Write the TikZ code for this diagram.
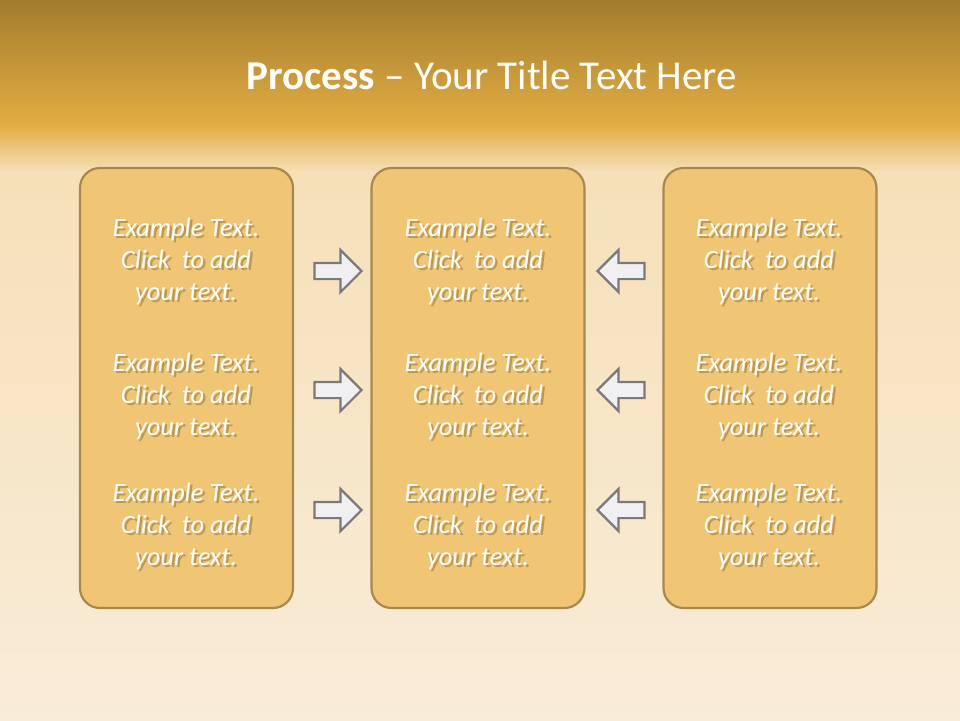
\documentclass[tikz,border=0pt]{standalone}
\usepackage{fontspec}
\setmainfont{Carlito}
\usetikzlibrary{shapes.arrows}
\definecolor{topdark}{HTML}{A47C2F}
\definecolor{topmid}{HTML}{E3AE42}
\definecolor{creamA}{HTML}{F5E0B8}
\definecolor{creamB}{HTML}{F9ECD8}
\definecolor{boxfill}{HTML}{F0C574}
\definecolor{boxline}{HTML}{A88850}
\definecolor{arrfill}{HTML}{F0F0F2}
\definecolor{arrline}{HTML}{7A7A7A}
\definecolor{shadowc}{HTML}{5A4210}
\tikzset{
  panel/.style={draw=boxline, line width=2.2pt, fill=boxfill, rounded corners=20pt,
    minimum width=213pt, minimum height=440pt, inner sep=0pt},
  bodytext/.style={text=white, font=\fontsize{26.5}{32}\selectfont\itshape, align=center, inner sep=0pt},
  bodyshadow/.style={bodytext, text=shadowc, opacity=0.35},
  rarrow/.style={single arrow, draw=arrline, line width=2.2pt, fill=arrfill,
    minimum height=47pt, minimum width=41pt, inner sep=7pt, single arrow head extend=13pt},
  larrow/.style={rarrow, shape border rotate=180},
}
\newcommand{\exampletext}{Example Text.\\Click~ to add\\your text.}
\begin{document}
\begin{tikzpicture}[x=1pt,y=-1pt]
\useasboundingbox (0,0) rectangle (960,720);
% background
\shade[top color=topdark, bottom color=topmid] (0,0) rectangle (960,126);
\shade[top color=topmid, bottom color=creamA] (0,125) rectangle (960,172);
\shade[top color=creamA, bottom color=creamB] (0,171) rectangle (960,720);
% title
\node[text=white, font=\fontsize{41}{44}\selectfont, inner sep=0pt] (title) at (492,75)
  {\textbf{Process} – Your Title Text Here};
% panels
\node[panel] (L) at (186.5,388) {};
\node[panel] (M) at (478,388) {};
\node[panel] (R) at (770,388) {};
% texts with drop shadow
\foreach \x/\c in {186/L,478/M,769/R}{
  \foreach \y/\i in {261/1,396/2,526/3}{
    \node[bodyshadow] (\c\i s) at (\x+2.4,\y+2.6) {\exampletext};
    \node[bodytext] (\c\i) at (\x,\y) {\exampletext};
  }
}
% arrows
\node[rarrow] (ar1) at (334,271) {};
\node[rarrow] (ar2) at (334,390) {};
\node[rarrow] (ar3) at (334,510) {};
\node[larrow] (al1) at (625,271) {};
\node[larrow] (al2) at (625,390) {};
\node[larrow] (al3) at (625,510) {};
\end{tikzpicture}
\end{document}
